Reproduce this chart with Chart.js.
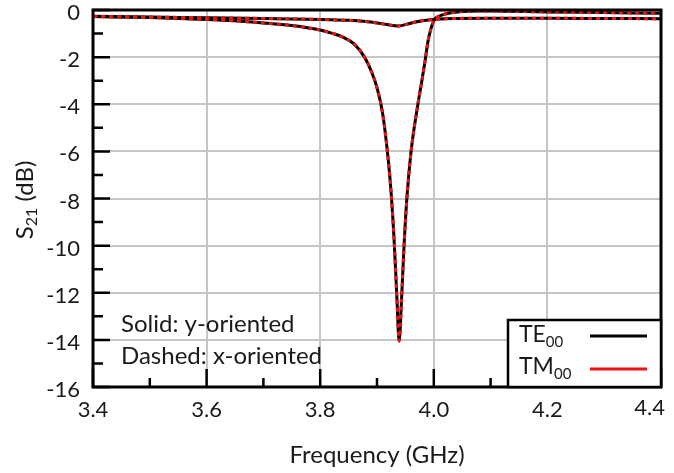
<!DOCTYPE html>
<html>
<head>
<meta charset="utf-8">
<script src="https://cdn.jsdelivr.net/npm/chart.js@4.4.1/dist/chart.umd.min.js"></script>
<style>
  html, body { margin: 0; padding: 0; background: #fff; }
</style>
</head>
<body>
<canvas id="s21" width="674" height="473"></canvas>
<script>
// Deep resonance (y-oriented TE00 / x-oriented TM00 overlap)
const deepFreq = [3.40, 3.50, 3.60, 3.65, 3.70, 3.75, 3.78, 3.80, 3.82, 3.84, 3.86, 3.878, 3.89, 3.90, 3.91, 3.92, 3.925, 3.93, 3.935, 3.939, 3.943, 3.947, 3.952, 3.96, 3.972, 3.979, 3.985, 3.99, 4.00, 4.01, 4.02, 4.035, 4.05, 4.08, 4.12, 4.20, 4.30, 4.40];
const deepS21 = [-0.28, -0.32, -0.40, -0.46, -0.55, -0.66, -0.76, -0.85, -0.98, -1.15, -1.45, -2.0, -2.6, -3.3, -4.4, -6.4, -7.8, -9.7, -12.2, -14.05, -12.4, -10.3, -8.2, -6.0, -4.0, -3.0, -2.1, -1.3, -0.45, -0.26, -0.17, -0.10, -0.06, -0.04, -0.05, -0.08, -0.11, -0.14];

// Shallow dip
const shallowFreq = [3.40, 3.50, 3.60, 3.70, 3.80, 3.85, 3.88, 3.90, 3.92, 3.937, 3.95, 3.97, 3.99, 4.02, 4.10, 4.20, 4.30, 4.40];
const shallowS21 = [-0.27, -0.30, -0.33, -0.36, -0.40, -0.44, -0.49, -0.55, -0.63, -0.68, -0.62, -0.50, -0.42, -0.37, -0.35, -0.35, -0.36, -0.37];

const xRange = [3.4, 4.4];
const yRange = [-16, 0];

const TE_COLOR = '#000000';
const TM_COLOR = '#ee1111';
const FONT = 'Lato, "Open Sans", sans-serif';
const TEXT = '#1a1a1a';

function toPoints(xs, ys) {
    return xs.map((x, i) => ({ x: x, y: ys[i] }));
}

function curve(label, xs, ys, color, dashed) {
    return {
        label: label,
        data: toPoints(xs, ys),
        borderColor: color,
        borderWidth: 3,
        borderDash: dashed ? [4, 4] : [],
        order: dashed ? 0 : 1,
        pointRadius: 0,
        fill: false,
        cubicInterpolationMode: 'monotone',
    };
}

function isLastX(v) {
    return Math.abs(v - xRange[1]) < 1e-9;
}

function drawSub(ctx, x, y, main, sub, size) {
    ctx.font = size + 'px ' + FONT;
    ctx.fillText(main, x, y);
    const w = ctx.measureText(main).width;
    ctx.font = Math.round(size * 0.66) + 'px ' + FONT;
    ctx.fillText(sub, x + w, y + size * 0.3);
    return w + ctx.measureText(sub).width;
}

// frame, inward ticks, notes, legend box and y title
const decorations = {
    id: 'decorations',
    afterDatasetsDraw(chart) {
        const { ctx, chartArea: a, scales: { x, y } } = chart;
        ctx.save();
        ctx.strokeStyle = '#000';
        ctx.lineWidth = 2.5;
        ctx.beginPath();
        for (let i = 0; i <= 10; i++) {
            const px = x.getPixelForValue(xRange[0] + i * 0.1);
            ctx.moveTo(px, a.bottom);
            ctx.lineTo(px, a.bottom - (i % 2 === 0 ? 18 : 9));
        }
        for (let v = 0; v >= -16; v--) {
            const py = y.getPixelForValue(v);
            ctx.moveTo(a.left, py);
            ctx.lineTo(a.left + (v % 2 === 0 ? 17 : 10), py);
        }
        ctx.stroke();

        ctx.lineWidth = 3;
        ctx.strokeRect(a.left, a.top, a.right - a.left, a.bottom - a.top);

        // last x label pulled inside the canvas edge
        ctx.fillStyle = TEXT;
        ctx.textAlign = 'right';
        ctx.textBaseline = 'top';
        ctx.font = '22px ' + FONT;
        ctx.fillText(xRange[1].toFixed(1), a.right + 4, a.bottom + 10);

        // orientation notes
        ctx.textBaseline = 'middle';
        ctx.textAlign = 'left';
        ctx.font = '24px ' + FONT;
        ctx.fillText('Solid: y-oriented', 121, 324);
        ctx.fillText('Dashed: x-oriented', 121, 356);

        // legend
        const lx = 508, ly = 320;
        ctx.fillStyle = '#fff';
        ctx.fillRect(lx, ly, a.right - lx, a.bottom - ly);
        ctx.lineWidth = 2.5;
        ctx.strokeRect(lx, ly, a.right - lx, a.bottom - ly);
        ctx.fillStyle = TEXT;
        drawSub(ctx, 519, 335, 'TE', '00', 23);
        drawSub(ctx, 519, 367, 'TM', '00', 23);
        ctx.lineWidth = 3;
        ctx.strokeStyle = TE_COLOR;
        ctx.beginPath(); ctx.moveTo(590, 336); ctx.lineTo(647, 336); ctx.stroke();
        ctx.strokeStyle = TM_COLOR;
        ctx.beginPath(); ctx.moveTo(590, 369); ctx.lineTo(647, 369); ctx.stroke();

        // y axis title S21 (dB)
        ctx.translate(25, 200);
        ctx.rotate(-Math.PI / 2);
        ctx.font = '24px ' + FONT;
        const w1 = ctx.measureText('S').width;
        const w3 = ctx.measureText(' (dB)').width;
        ctx.font = '16px ' + FONT;
        const w2 = ctx.measureText('21').width;
        let cx = -(w1 + w2 + w3) / 2;
        cx += drawSub(ctx, cx, 0, 'S', '21', 24);
        ctx.font = '24px ' + FONT;
        ctx.fillText(' (dB)', cx, 0);
        ctx.restore();
    }
};

new Chart(document.getElementById('s21'), {
    type: 'line',
    data: {
        datasets: [
            curve('TE00', deepFreq, deepS21, TE_COLOR, false),
            curve('TM00', deepFreq, deepS21, TM_COLOR, true),
            curve('TE00', shallowFreq, shallowS21, TE_COLOR, false),
            curve('TM00', shallowFreq, shallowS21, TM_COLOR, true),
        ]
    },
    options: {
        responsive: false,
        animation: false,
        devicePixelRatio: 1,
        layout: {
            padding: { left: 0, right: 13, top: 10, bottom: 0 }
        },
        plugins: {
            legend: { display: false },
            tooltip: { enabled: false },
        },
        scales: {
            x: {
                type: 'linear',
                min: xRange[0],
                max: xRange[1],
                ticks: {
                    stepSize: 0.2,
                    callback: (v) => isLastX(v) ? '' : v.toFixed(1),
                    font: { family: FONT, size: 22 },
                    color: TEXT,
                    padding: 10,
                    maxRotation: 0,
                },
                grid: { color: '#c6c6c6', lineWidth: 2, drawTicks: false },
                border: { display: false },
                title: {
                    display: true,
                    text: 'Frequency (GHz)',
                    font: { family: FONT, size: 24 },
                    color: TEXT,
                    padding: { top: 0, bottom: 3 },
                },
                afterFit: (s) => {
                    s.height = 86;
                    s.paddingLeft = 0;
                    s.paddingRight = 0;
                },
            },
            y: {
                min: yRange[0],
                max: yRange[1],
                ticks: {
                    stepSize: 2,
                    font: { family: FONT, size: 22 },
                    color: TEXT,
                    padding: 13,
                    labelOffset: 3,
                },
                grid: { color: '#c6c6c6', lineWidth: 2, drawTicks: false },
                border: { display: false },
                afterFit: (s) => {
                    s.width = 93;
                    s.paddingTop = 0;
                    s.paddingBottom = 0;
                },
            },
        },
    },
    plugins: [decorations],
});
</script>
</body>
</html>
